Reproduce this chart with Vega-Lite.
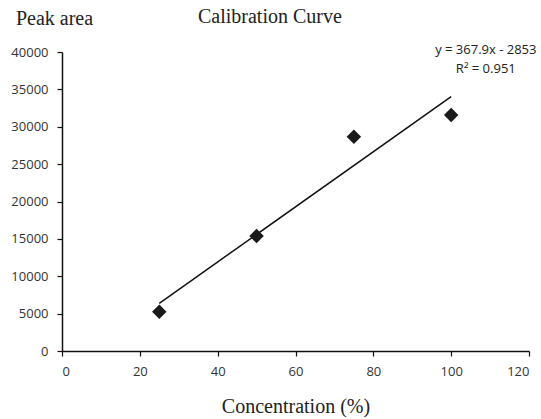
{
  "$schema": "https://vega.github.io/schema/vega-lite/v6.json",
  "width": 467,
  "height": 299,
  "autosize": "none",
  "padding": {"left": 62, "top": 52, "right": 12, "bottom": 68},
  "background": "white",
  "title": {
    "text": "Calibration Curve",
    "font": "Liberation Serif",
    "fontSize": 20,
    "fontWeight": "normal",
    "color": "#222222",
    "anchor": "start",
    "frame": "group",
    "dx": 136,
    "offset": -19
  },
  "config": {
    "view": {"stroke": null},
    "axis": {
      "grid": false,
      "domainColor": "#111111",
      "domainWidth": 1.5,
      "tickColor": "#111111",
      "tickSize": 5,
      "tickWidth": 1.2,
      "labelFont": "Open Sans",
      "labelFontSize": 13,
      "labelColor": "#333333",
      "labelPadding": 9,
      "labelOverlap": false,
      "titleFont": "Liberation Serif",
      "titleFontSize": 20,
      "titleFontWeight": "normal",
      "titleColor": "#222222"
    }
  },
  "datasets": {
    "pts": [
      {"c": 25, "a": 5250},
      {"c": 50, "a": 15380},
      {"c": 75, "a": 28650},
      {"c": 100, "a": 31560}
    ],
    "notes": [
      {"c": 108.9, "a": 40268, "t": "y = 367.9x - 2853"},
      {"c": 108.9, "a": 37726, "t": "R² = 0.951"}
    ]
  },
  "encoding": {
    "x": {
      "field": "c", "type": "quantitative",
      "scale": {"domain": [0, 120], "nice": false},
      "axis": {"tickCount": 6, "title": "Concentration (%)", "titlePadding": 18}
    },
    "y": {
      "field": "a", "type": "quantitative",
      "scale": {"domain": [0, 40000], "nice": false},
      "axis": {
        "tickCount": 8,
        "labelOverlap": false,
        "labelExpr": "format(datum.value, 'd')",
        "title": "Peak area",
        "titleAngle": 0,
        "titleX": -8,
        "titleY": -34,
        "titleAlign": "center",
        "titleBaseline": "middle"
      }
    }
  },
  "layer": [
    {
      "data": {"name": "pts"},
      "transform": [{"regression": "a", "on": "c", "method": "linear", "extent": [25, 100]}],
      "mark": {"type": "line", "color": "#111111", "strokeWidth": 1.5}
    },
    {
      "data": {"name": "pts"},
      "mark": {"type": "point", "shape": "diamond", "filled": true, "size": 210, "color": "#1a1a1a", "opacity": 1}
    },
    {
      "data": {"name": "notes"},
      "mark": {"type": "text", "font": "Open Sans", "fontSize": 13, "color": "#222222", "align": "center", "baseline": "middle"},
      "encoding": {
        "text": {"field": "t"}
      }
    }
  ]
}
